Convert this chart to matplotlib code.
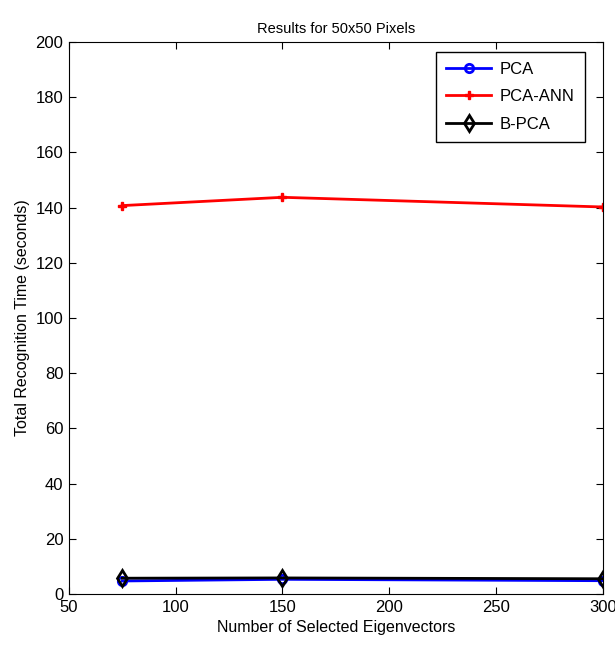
import matplotlib.pyplot as plt

# data
eigvecs = [75, 150, 300]
pca = [4.8, 5.4, 4.9]
pca_ann = [140.7, 143.7, 140.2]
b_pca = [5.8, 5.9, 5.6]

plt.rcParams['font.family'] = ['Liberation Sans', 'DejaVu Sans']

fig = plt.figure(figsize=(6.15, 6.53), dpi=100)
ax = fig.add_axes([0.112, 0.090, 0.868, 0.846])

ax.plot(eigvecs, pca, color='blue', marker='o', markersize=6, markerfacecolor='none',
        markeredgewidth=2, linewidth=2, label='PCA')
ax.plot(eigvecs, pca_ann, color='red', marker='P', markersize=6,
        linewidth=2, label='PCA-ANN')
ax.plot(eigvecs, b_pca, color='black', marker='d', markersize=8, markerfacecolor='none',
        markeredgewidth=2, linewidth=2, label='B-PCA')

ax.set_xlim(50, 300)
ax.set_ylim(0, 200)
ax.set_xticks(range(50, 301, 50))
ax.set_yticks(range(0, 201, 20))
ax.tick_params(direction='in', top=True, right=True, labelsize=12, length=5, pad=4)

ax.set_title('Results for 50x50 Pixels', fontsize=10.5)
ax.set_xlabel('Number of Selected Eigenvectors', fontsize=11.5)
ax.set_ylabel('Total Recognition Time (seconds)', fontsize=11.5)

leg = ax.legend(loc='upper right', bbox_to_anchor=(0.966, 0.982), borderaxespad=0,
                fontsize=12, fancybox=False, edgecolor='black', framealpha=1,
                handlelength=2.7, labelspacing=0.75, borderpad=0.6, handletextpad=0.5)
leg.get_frame().set_linewidth(1)

plt.savefig('out.png')
